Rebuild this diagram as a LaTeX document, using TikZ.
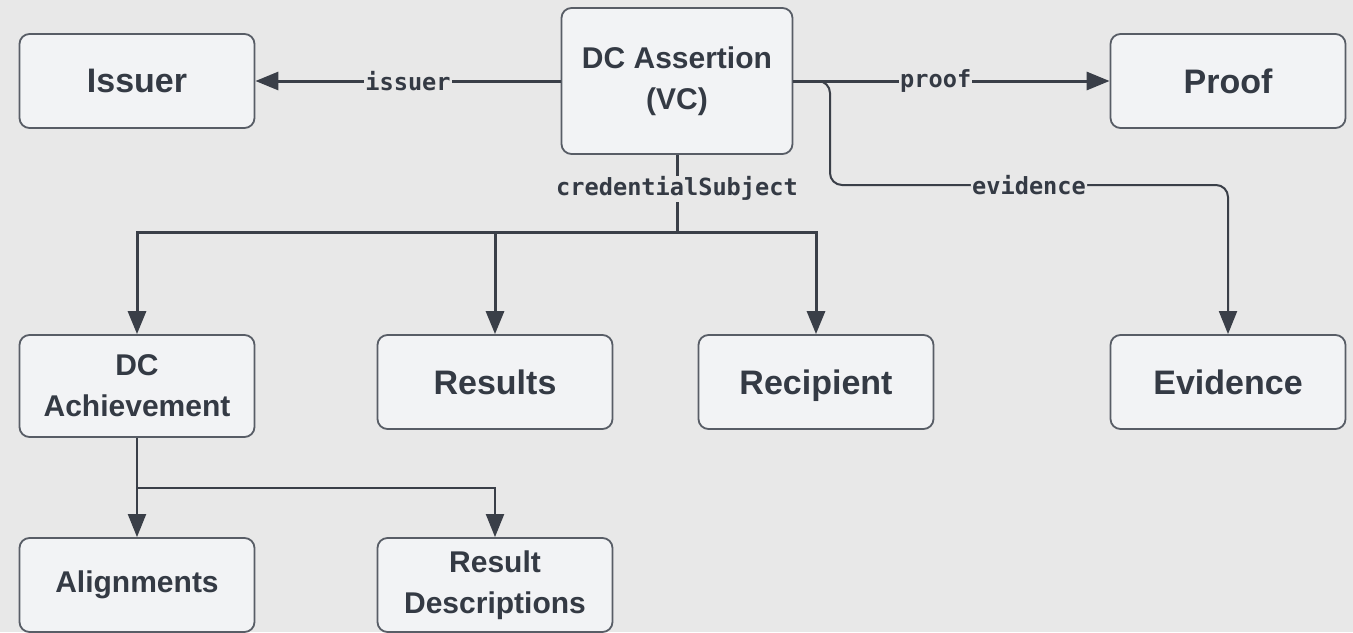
\documentclass[tikz,border=0pt]{standalone}
\usepackage{fontspec}
\setmainfont{Liberation Sans}
\setmonofont{DejaVu Sans Mono}
\usepackage{tikz}
\usetikzlibrary{arrows.meta, positioning}
\definecolor{colorBg}{HTML}{E8E8E8}
\definecolor{colorBox}{HTML}{F2F3F5}
\definecolor{colorBorder}{HTML}{585D66}
\definecolor{colorLink}{HTML}{3A3F48}
\definecolor{colorText}{HTML}{343A44}
\tikzset{
  box/.style={draw=colorBorder, fill=colorBox, line width=0.9pt, rounded corners=5pt,
    minimum width=117.5pt, minimum height=47pt, align=center, text=colorText,
    font=\fontsize{17}{20}\selectfont\bfseries},
  smalltext/.style={font=\fontsize{15}{20.5}\selectfont\bfseries},
  link/.style={draw=colorLink, line width=1.5pt, -{Triangle[length=11.5pt,width=9pt]}},
  thinlink/.style={draw=colorLink, line width=1pt, -{Triangle[length=11.5pt,width=9pt]}},
  lbl/.style={fill=colorBg, inner sep=0.6pt, text=colorText,
    font=\fontsize{11.8}{12}\selectfont\ttfamily\bfseries},
}

\begin{document}
\begin{tikzpicture}[x=0.5pt, y=-0.5pt]
\fill[colorBg] (0,0) rectangle (1353,632);
\useasboundingbox (0,0) rectangle (1353,632);
\node[box, smalltext, minimum width=115.5pt, minimum height=73pt] (asrt) at (677,81) {DC Assertion\\(VC)};
\node[box] (issuer) at (137,81) {Issuer};
\node[box] (proof) at (1228,81) {Proof};
\node[box, smalltext, minimum height=51pt] (achv) at (137,386) {DC\\Achievement};
\node[box] (results) at (495,382) {Results};
\node[box, text depth=0pt] (recip) at (816,382) {Recipient};
\node[box] (evid) at (1228,382) {Evidence};
\node[box, smalltext] (align) at (137,585) {Alignments};
\node[box, smalltext] (rdesc) at (495,585) {Result\\Descriptions};
\coordinate (csj) at (677,232);
\coordinate (evbend) at (830,185);
\coordinate (achj) at (137,488);
% assertion links
\draw[link] (asrt) -- node[lbl, pos=0.5]{issuer} (issuer);
\draw[thinlink, rounded corners=6pt] (asrt.east) -| (evbend) -| node[lbl, pos=0.25]{evidence} (evid);
\draw[link] (asrt) -- node[lbl, pos=0.45]{proof} (proof);
\draw[draw=colorLink, line width=1.5pt] (asrt) -- node[lbl, pos=0.44]{credentialSubject} (csj);
\draw[link] (csj) -| (achv);
\draw[link] (csj) -| (results);
\draw[link] (csj) -| (recip);
% achievement links
\draw[thinlink] (achv) -- (align);
\draw[thinlink] (achj) -| (rdesc);
\end{tikzpicture}
\end{document}
